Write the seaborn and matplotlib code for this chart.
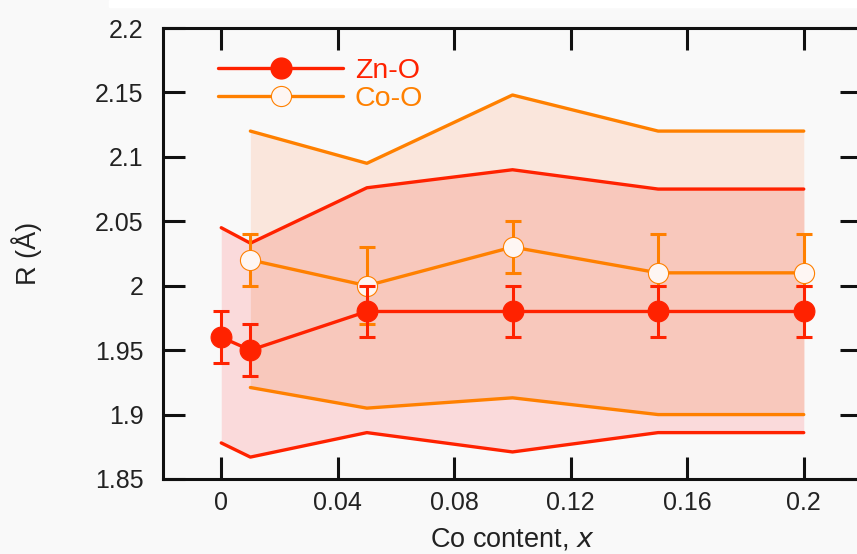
import matplotlib
matplotlib.use("Agg")
import matplotlib.pyplot as plt
from matplotlib.lines import Line2D
from matplotlib.patches import Rectangle
import seaborn as sns
import pandas as pd

# Zn-O shell: mean distance, error and spread band
x_zn = [0.0, 0.01, 0.05, 0.10, 0.15, 0.20]
r_zn = [1.96, 1.95, 1.98, 1.98, 1.98, 1.98]
err_zn = [0.02, 0.02, 0.02, 0.02, 0.02, 0.02]
zn_hi = [2.045, 2.033, 2.076, 2.090, 2.075, 2.075]
zn_lo = [1.878, 1.867, 1.886, 1.871, 1.886, 1.886]

# Co-O shell: mean distance, asymmetric error and spread band
x_co = [0.01, 0.05, 0.10, 0.15, 0.20]
r_co = [2.02, 2.00, 2.03, 2.01, 2.01]
co_err_lo = [0.02, 0.03, 0.02, 0.01, 0.01]
co_err_hi = [0.02, 0.03, 0.02, 0.03, 0.03]
co_hi = [2.120, 2.095, 2.148, 2.120, 2.120]
co_lo = [1.921, 1.905, 1.913, 1.900, 1.900]

x_ticks = [0, 0.04, 0.08, 0.12, 0.16, 0.2]
x_ticklabels = ["0", "0.04", "0.08", "0.12", "0.16", "0.2"]
y_ticks = [1.85, 1.9, 1.95, 2.0, 2.05, 2.1, 2.15, 2.2]
y_ticklabels = ["1.85", "1.9", "1.95", "2", "2.05", "2.1", "2.15", "2.2"]

RED = "#ff2200"
ORANGE = "#ff8000"
BG = "#f9f9f9"

sns.set_theme(style="ticks")
plt.rcParams["font.family"] = ["Liberation Sans", "DejaVu Sans"]

fig = plt.figure(figsize=(8.57, 5.54), dpi=100, facecolor=BG)
fig.patches.append(Rectangle((109 / 857, 547 / 554), 1, 7 / 554,
                             transform=fig.transFigure, color="white", zorder=-10))
ax = fig.add_axes([163 / 857, 75 / 554, 699 / 857, 451 / 554])
ax.set_facecolor(BG)

zn_n = len(x_zn)
zn_df = pd.DataFrame({"x": x_zn, "r": r_zn, "hi": zn_hi, "lo": zn_lo})
co_df = pd.DataFrame({"x": x_co, "r": r_co, "hi": co_hi, "lo": co_lo})

# spread bands: Zn-O only, Co-O only, and their overlap
ax.fill_between(x_zn, zn_lo, zn_hi, color="#fadadb", lw=0, zorder=1)
ax.fill_between(x_co, co_lo, co_hi, color="#fae6dc", lw=0, zorder=1.1)
ax.fill_between(x_co, co_lo, zn_hi[zn_n - len(x_co):], color="#f8c8bc", lw=0, zorder=1.2)

lw = 2.4
for col in ["hi", "lo"]:
    sns.lineplot(data=co_df, x="x", y=col, ax=ax, color=ORANGE, lw=lw,
                 estimator=None, sort=False, zorder=2)
    sns.lineplot(data=zn_df, x="x", y=col, ax=ax, color=RED, lw=lw,
                 estimator=None, sort=False, zorder=2.1)

# Co-O series
ax.errorbar(x_co, r_co, yerr=[co_err_lo, co_err_hi], fmt="none", ecolor=ORANGE,
            elinewidth=2.2, capsize=6, capthick=2.2, zorder=3)
sns.lineplot(data=co_df, x="x", y="r", ax=ax, color=ORANGE, lw=lw, marker="o",
             markersize=14.5, markerfacecolor="#fef6f3", markeredgecolor=ORANGE,
             markeredgewidth=0.8, estimator=None, sort=False, zorder=3.1)

# Zn-O series
ax.errorbar(x_zn, r_zn, yerr=err_zn, fmt="none", ecolor=RED,
            elinewidth=2.2, capsize=6, capthick=2.2, zorder=4)
sns.lineplot(data=zn_df, x="x", y="r", ax=ax, color=RED, lw=lw, marker="o",
             markersize=15, markerfacecolor=RED, markeredgecolor=RED,
             markeredgewidth=0.8, estimator=None, sort=False, zorder=4.1)

ax.set_xlim(-0.02, 0.22)
ax.set_ylim(1.85, 2.2)
ax.set_xticks(x_ticks)
ax.set_xticklabels(x_ticklabels)
ax.set_yticks(y_ticks)
ax.set_yticklabels(y_ticklabels)
ax.tick_params(axis="both", which="both", direction="in", length=16, width=2.2,
               color="#111111", labelsize=18, labelcolor="#222222",
               top=True, right=True)
ax.tick_params(axis="y", pad=14)
ax.tick_params(axis="x", pad=9)
for s in ax.spines.values():
    s.set_linewidth(2.2)
    s.set_color("#111111")

ax.set_xlabel("Co content, $x$", fontsize=19.5, color="#222222", labelpad=8)
ax.set_ylabel("R (Å)", fontsize=19.5, color="#222222")
ax.yaxis.set_label_coords(-0.173, 0.5)
ax.grid(False)

handles = [
    Line2D([], [], color=RED, lw=lw, marker="o", markersize=15,
           markerfacecolor=RED, markeredgecolor=RED),
    Line2D([], [], color=ORANGE, lw=lw, marker="o", markersize=14.5,
           markerfacecolor="#fef6f3", markeredgecolor=ORANGE, markeredgewidth=0.8),
]
ax.legend(handles, ["Zn-O", "Co-O"], loc="upper left",
          bbox_to_anchor=(55 / 699, 1 - 30 / 451), frameon=False,
          fontsize=20.5, labelcolor="linecolor", handlelength=4.4,
          handletextpad=0.4, labelspacing=0.08, borderpad=0, borderaxespad=0)

fig.savefig("out.png", dpi=100, facecolor=BG)
